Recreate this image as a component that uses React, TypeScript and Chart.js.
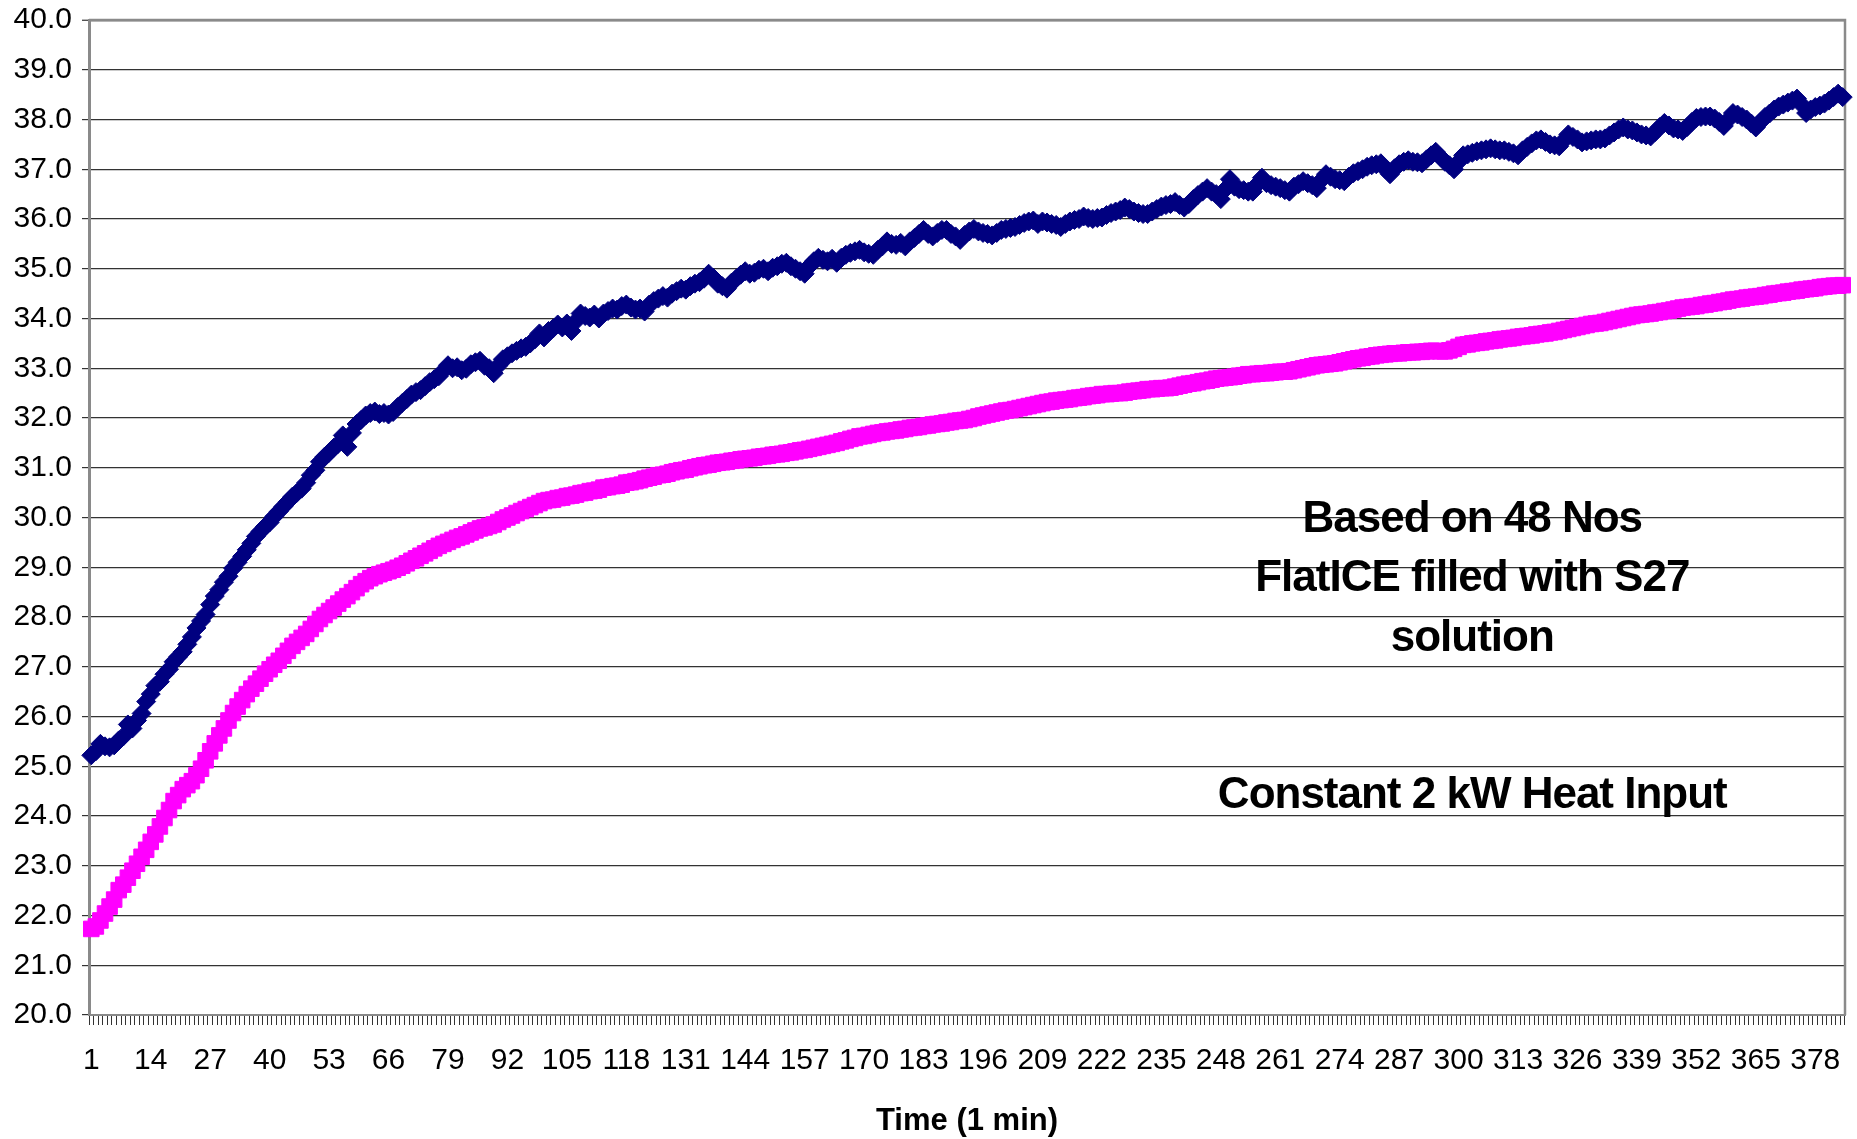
import { useEffect, useRef } from 'react';
import { Chart, registerables, Plugin } from 'chart.js';

Chart.register(...registerables);

// Readings (°C), one per minute
const upperTemps = [
  25.22, 25.30, 25.45, 25.40, 25.38, 25.42, 25.52, 25.60, 25.84, 25.76,
  25.92, 26.06, 26.30, 26.45, 26.62, 26.70, 26.85, 26.95, 27.10, 27.20,
  27.30, 27.45, 27.60, 27.78, 27.92, 28.05, 28.25, 28.42, 28.55, 28.70,
  28.82, 28.98, 29.10, 29.22, 29.35, 29.48, 29.62, 29.72, 29.82, 29.90,
  30.02, 30.12, 30.22, 30.32, 30.42, 30.50, 30.58, 30.70, 30.85, 30.95,
  31.12, 31.22, 31.30, 31.40, 31.48, 31.65, 31.42, 31.70, 31.88, 31.96,
  32.05, 32.10, 32.13, 32.08, 32.10, 32.07, 32.12, 32.22, 32.30, 32.38,
  32.47, 32.52, 32.56, 32.64, 32.72, 32.78, 32.84, 32.95, 33.06, 33.00,
  33.02, 32.96, 32.99, 33.08, 33.12, 33.15, 33.05, 33.00, 32.90, 33.05,
  33.18, 33.24, 33.30, 33.35, 33.40, 33.43, 33.50, 33.58, 33.70, 33.62,
  33.75, 33.80, 33.88, 33.82, 33.90, 33.75, 33.95, 34.10, 34.05, 34.02,
  34.08, 34.00, 34.10, 34.15, 34.20, 34.18, 34.25, 34.28, 34.22, 34.18,
  34.20, 34.14, 34.28, 34.35, 34.40, 34.45, 34.42, 34.50, 34.55, 34.60,
  34.58, 34.65, 34.70, 34.73, 34.80, 34.90, 34.82, 34.70, 34.65, 34.60,
  34.72, 34.80, 34.88, 34.95, 34.90, 34.92, 34.98, 35.00, 34.95, 35.02,
  35.05, 35.10, 35.12, 35.05, 35.00, 34.95, 34.90, 35.05, 35.15, 35.22,
  35.18, 35.15, 35.20, 35.12, 35.22, 35.28, 35.32, 35.35, 35.38, 35.33,
  35.30, 35.28, 35.38, 35.45, 35.55, 35.50, 35.48, 35.52, 35.45, 35.55,
  35.62, 35.70, 35.78, 35.70, 35.65, 35.72, 35.78, 35.78, 35.70, 35.65,
  35.58, 35.68, 35.75, 35.80, 35.75, 35.72, 35.70, 35.67, 35.72, 35.78,
  35.80, 35.82, 35.84, 35.88, 35.92, 35.95, 35.97, 35.90, 35.95, 35.93,
  35.90, 35.88, 35.84, 35.90, 35.95, 35.98, 36.00, 36.05, 36.02, 36.00,
  36.02, 36.03, 36.08, 36.12, 36.15, 36.18, 36.23, 36.20, 36.15, 36.12,
  36.10, 36.10, 36.15, 36.20, 36.25, 36.28, 36.30, 36.34, 36.28, 36.23,
  36.30, 36.40, 36.48, 36.55, 36.62, 36.55, 36.50, 36.40, 36.60, 36.80,
  36.65, 36.60, 36.58, 36.55, 36.55, 36.70, 36.83, 36.72, 36.68, 36.65,
  36.62, 36.58, 36.55, 36.65, 36.70, 36.76, 36.72, 36.68, 36.62, 36.78,
  36.90, 36.85, 36.80, 36.78, 36.76, 36.85, 36.92, 36.96, 37.00, 37.05,
  37.08, 37.10, 37.12, 37.00, 36.90, 37.02, 37.10, 37.15, 37.18, 37.15,
  37.14, 37.12, 37.20, 37.28, 37.35, 37.25, 37.15, 37.08, 37.00, 37.15,
  37.28, 37.30, 37.33, 37.36, 37.38, 37.40, 37.42, 37.40, 37.38, 37.38,
  37.35, 37.32, 37.28, 37.38, 37.45, 37.52, 37.58, 37.60, 37.55, 37.50,
  37.48, 37.46, 37.58, 37.70, 37.65, 37.60, 37.54, 37.56, 37.58, 37.60,
  37.60, 37.62, 37.68, 37.74, 37.80, 37.84, 37.80, 37.78, 37.74, 37.70,
  37.68, 37.66, 37.75, 37.85, 37.93, 37.88, 37.82, 37.80, 37.77, 37.85,
  37.95, 38.03, 38.05, 38.06, 38.06, 38.02, 37.95, 37.87, 38.00, 38.13,
  38.10, 38.05, 38.00, 37.92, 37.84, 37.95, 38.05, 38.12, 38.20, 38.26,
  38.30, 38.34, 38.38, 38.42, 38.30, 38.13, 38.20, 38.25, 38.28, 38.32,
  38.38, 38.45, 38.52, 38.45,
];

const lowerTemps = [
  21.73, 21.78, 21.90, 22.04, 22.18, 22.32, 22.51, 22.62, 22.76, 22.90,
  23.04, 23.18, 23.32, 23.48, 23.63, 23.79, 23.96, 24.12, 24.30, 24.42,
  24.54, 24.62, 24.70, 24.82, 24.95, 25.12, 25.30, 25.46, 25.62, 25.76,
  25.92, 26.07, 26.20, 26.33, 26.45, 26.56, 26.66, 26.76, 26.86, 26.95,
  27.04, 27.12, 27.22, 27.32, 27.42, 27.50, 27.58, 27.66, 27.76, 27.86,
  27.96, 28.04, 28.12, 28.19, 28.27, 28.35, 28.42, 28.50, 28.58, 28.66,
  28.72, 28.78, 28.82, 28.86, 28.89, 28.92, 28.95, 28.99, 29.03, 29.08,
  29.13, 29.18, 29.23, 29.28, 29.33, 29.38, 29.43, 29.47, 29.51, 29.55,
  29.59, 29.62, 29.66, 29.70, 29.74, 29.78, 29.80, 29.83, 29.86, 29.91,
  29.96, 30.00, 30.04, 30.09, 30.13, 30.17, 30.21, 30.25, 30.29, 30.33,
  30.35, 30.36, 30.39, 30.40, 30.43, 30.44, 30.46, 30.49, 30.50, 30.53,
  30.54, 30.56, 30.60, 30.61, 30.63, 30.64, 30.66, 30.70, 30.71, 30.73,
  30.75, 30.78, 30.80, 30.82, 30.85, 30.86, 30.88, 30.91, 30.93, 30.95,
  30.96, 30.99, 31.01, 31.03, 31.05, 31.06, 31.08, 31.10, 31.11, 31.12,
  31.14, 31.15, 31.17, 31.18, 31.19, 31.20, 31.22, 31.23, 31.24, 31.26,
  31.27, 31.28, 31.30, 31.31, 31.33, 31.35, 31.36, 31.38, 31.40, 31.42,
  31.44, 31.46, 31.48, 31.50, 31.53, 31.55, 31.58, 31.60, 31.63, 31.64,
  31.66, 31.68, 31.70, 31.71, 31.73, 31.74, 31.75, 31.77, 31.78, 31.80,
  31.81, 31.82, 31.84, 31.85, 31.87, 31.88, 31.89, 31.91, 31.92, 31.94,
  31.95, 31.96, 31.98, 32.00, 32.03, 32.05, 32.07, 32.09, 32.11, 32.13,
  32.15, 32.16, 32.18, 32.20, 32.22, 32.24, 32.26, 32.28, 32.30, 32.32,
  32.33, 32.35, 32.36, 32.37, 32.38, 32.40, 32.41, 32.42, 32.44, 32.45,
  32.46, 32.48, 32.48, 32.49, 32.50, 32.50, 32.51, 32.53, 32.54, 32.55,
  32.56, 32.58, 32.58, 32.59, 32.60, 32.60, 32.61, 32.63, 32.65, 32.67,
  32.69, 32.70, 32.72, 32.74, 32.75, 32.77, 32.79, 32.80, 32.81, 32.82,
  32.83, 32.85, 32.86, 32.88, 32.88, 32.89, 32.90, 32.90, 32.91, 32.92,
  32.93, 32.93, 32.94, 32.96, 32.98, 33.00, 33.02, 33.04, 33.06, 33.07,
  33.08, 33.09, 33.10, 33.12, 33.14, 33.16, 33.18, 33.20, 33.21, 33.23,
  33.24, 33.26, 33.27, 33.28, 33.29, 33.30, 33.30, 33.31, 33.32, 33.32,
  33.33, 33.33, 33.34, 33.35, 33.35, 33.34, 33.34, 33.36, 33.39, 33.43,
  33.47, 33.48, 33.50, 33.51, 33.52, 33.54, 33.55, 33.56, 33.58, 33.59,
  33.60, 33.61, 33.63, 33.64, 33.65, 33.66, 33.68, 33.69, 33.70, 33.72,
  33.73, 33.75, 33.77, 33.79, 33.81, 33.83, 33.85, 33.87, 33.89, 33.90,
  33.91, 33.93, 33.95, 33.97, 33.99, 34.01, 34.03, 34.05, 34.07, 34.08,
  34.09, 34.10, 34.12, 34.13, 34.15, 34.16, 34.18, 34.20, 34.22, 34.23,
  34.24, 34.25, 34.27, 34.28, 34.30, 34.31, 34.33, 34.34, 34.36, 34.38,
  34.39, 34.40, 34.42, 34.43, 34.44, 34.45, 34.47, 34.48, 34.50, 34.51,
  34.52, 34.54, 34.55, 34.56, 34.58, 34.59, 34.60, 34.61, 34.63, 34.64,
  34.65, 34.66, 34.66, 34.67,
];

const timeLabels = upperTemps.map((_, i) => String(i + 1));
const shownMinutes = [
  1, 14, 27, 40, 53, 66, 79, 92, 105, 118, 131, 144, 157, 170, 183,
  196, 209, 222, 235, 248, 261, 274, 287, 300, 313, 326, 339, 352, 365, 378,
];

// text boxes inside the plot, anchored at a minute and temperature
const noteLines = ['Based on 48 Nos', 'FlatICE filled with S27', 'solution', 'Constant 2 kW Heat Input'];
const noteMinute = 303;
const noteLevels = [29.96, 28.77, 27.56, 24.41];

const FONT = "'Liberation Sans', Arial, Helvetica, sans-serif";
const GRID = '#333333';
const FRAME = '#8a8a8a';

const plotFrame: Plugin<'line'> = {
  id: 'plotFrame',
  beforeDatasetsDraw(chart) {
    const { ctx, chartArea: a } = chart;
    ctx.save();
    ctx.strokeStyle = FRAME;
    ctx.lineWidth = 2.5;
    ctx.beginPath();
    ctx.moveTo(a.left, a.top);
    ctx.lineTo(a.right, a.top);
    ctx.lineTo(a.right, a.bottom);
    ctx.stroke();
    ctx.restore();
  },
};

const notes: Plugin<'line'> = {
  id: 'notes',
  afterDatasetsDraw(chart) {
    const { ctx } = chart;
    const x = chart.scales.x;
    const y = chart.scales.y;
    const px = x.getPixelForValue(timeLabels.indexOf(String(noteMinute)));
    ctx.save();
    ctx.font = `bold 44px ${FONT}`;
    (ctx as any).letterSpacing = '-1px';
    ctx.fillStyle = '#000';
    ctx.textAlign = 'center';
    ctx.textBaseline = 'middle';
    noteLines.forEach((t, k) => ctx.fillText(t, px, y.getPixelForValue(noteLevels[k])));
    ctx.restore();
  },
};

export default function App() {
  const chartRef = useRef<HTMLCanvasElement>(null);
  const chartInstance = useRef<Chart | null>(null);

  useEffect(() => {
    if (!chartRef.current) return;
    if (chartInstance.current) chartInstance.current.destroy();

    chartInstance.current = new Chart(chartRef.current, {
      type: 'line',
      data: {
        labels: timeLabels,
        datasets: [
          {
            label: 'Upper',
            data: upperTemps,
            showLine: false,
            pointStyle: 'rectRot',
            pointRadius: 9.5,
            pointBorderWidth: 1,
            pointBackgroundColor: '#000080',
            pointBorderColor: '#000080',
            backgroundColor: '#000080',
            borderColor: '#000080',
            clip: 14,
          },
          {
            label: 'Lower',
            data: lowerTemps,
            showLine: false,
            pointStyle: 'rect',
            pointRadius: 11,
            pointBorderWidth: 1,
            pointBackgroundColor: '#ff00ff',
            pointBorderColor: '#ff00ff',
            backgroundColor: '#ff00ff',
            borderColor: '#ff00ff',
            clip: 14,
          },
        ],
      },
      options: {
        responsive: false,
        animation: false,
        events: [],
        layout: { padding: { top: 20, right: 8, bottom: 0, left: 0 } },
        plugins: {
          legend: { display: false },
          tooltip: { enabled: false },
        },
        scales: {
          x: {
            type: 'category',
            offset: true,
            grid: {
              drawOnChartArea: false,
              offset: true,
              tickLength: 10,
              color: GRID,
              lineWidth: 1,
            },
            border: { color: FRAME, width: 2 },
            ticks: {
              autoSkip: false,
              maxRotation: 0,
              minRotation: 0,
              padding: 18,
              color: '#000',
              font: { family: FONT, size: 30 },
              callback: (_v, index) => (shownMinutes.includes(index + 1) ? timeLabels[index] : ''),
            },
            title: {
              display: true,
              text: 'Time (1 min)',
              color: '#000',
              font: { family: FONT, size: 31, weight: 'bold' },
              padding: { top: 0, bottom: -1 },
            },
            afterFit: (scale) => {
              scale.height = 124;
              scale.paddingLeft = 0;
              scale.paddingRight = 0;
            },
          },
          y: {
            min: 20,
            max: 40,
            grid: {
              color: (c) => (c.tick && (c.tick.value === 40 || c.tick.value === 20) ? FRAME : GRID),
              lineWidth: (c) => (c.tick && c.tick.value === 40 ? 2.5 : 1.2),
              tickColor: (c) => (c.tick && c.tick.value % 1 === 0 ? GRID : 'rgba(0,0,0,0)'),
              tickLength: 7,
              tickWidth: 1.2,
            },
            border: { color: FRAME, width: 3 },
            ticks: {
              stepSize: 0.5,
              padding: 10,
              color: '#000',
              font: { family: FONT, size: 30 },
              callback: (v) => (Number(v) % 1 === 0 ? Number(v).toFixed(1) : ''),
            },
            afterFit: (scale) => {
              scale.width = 89;
              scale.paddingTop = 0;
              scale.paddingBottom = 0;
            },
          },
        },
      },
      plugins: [plotFrame, notes],
    });

    return () => {
      if (chartInstance.current) {
        chartInstance.current.destroy();
        chartInstance.current = null;
      }
    };
  }, []);

  return (
    <div style={{ position: 'absolute', left: 0, top: 0, width: 1857, height: 1139, background: '#fff' }}>
      <canvas ref={chartRef} width={1857} height={1139} style={{ display: 'block' }} />
    </div>
  );
}
